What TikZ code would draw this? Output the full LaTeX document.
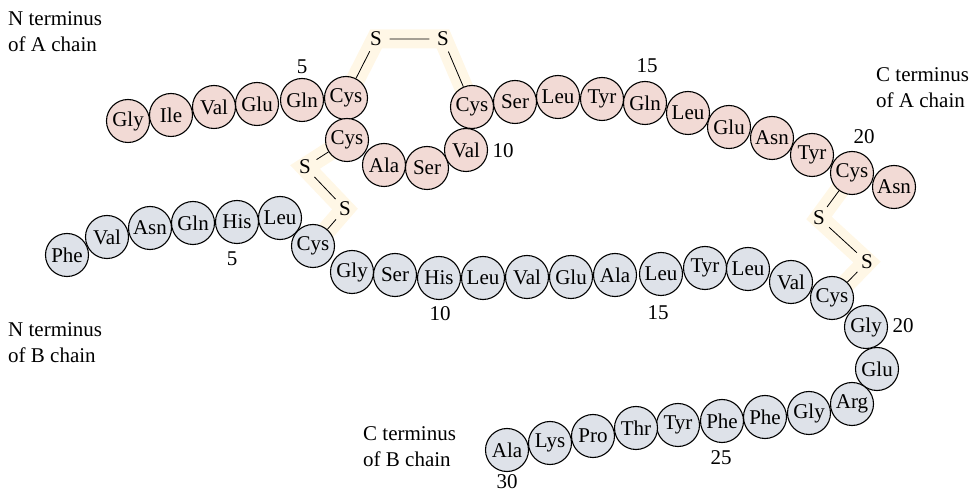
\documentclass[tikz,border=0pt]{standalone}
\usepackage{fontspec}
\setmainfont{Liberation Serif}
\usetikzlibrary{backgrounds}
\definecolor{apink}{RGB}{242,218,213}
\definecolor{bgrey}{RGB}{222,226,233}
\definecolor{bandcol}{RGB}{255,247,230}

\begin{document}
\begin{tikzpicture}[
    x=1pt, y=-1pt,
    every node/.style={font=\fontsize{21}{25}\selectfont, inner sep=0pt},
    res/.style={circle, draw, line width=1.1pt, minimum size=43pt},
    achain/.style={res, fill=apink},
    bchain/.style={res, fill=bgrey},
    sulf/.style={circle, minimum size=27pt},
    bond/.style={line width=0.8pt},
    band/.style={line width=19pt, draw=bandcol, line join=miter},
    term/.style={align=left, anchor=west, font=\fontsize{21}{26}\selectfont}
]
\useasboundingbox (0,0) rectangle (970,494);

% A chain
\node[achain] (a1) at (128,121) {Gly};
\node[achain] (a2) at (171,115) {Ile};
\node[achain] (a3) at (214,107) {Val};
\node[achain] (a4) at (257,104) {Glu};
\node[achain] (a5) at (302,100) {Gln};
\node[achain] (a6) at (346,98) {Cys};
\node[achain] (a7) at (347,140) {Cys};
\node[achain] (a8) at (384,165) {Ala};
\node[achain] (a9) at (427,168) {Ser};
\node[achain] (a10) at (466,150) {Val};
\node[achain] (a11) at (472,107) {Cys};
\node[achain] (a12) at (515,102) {Ser};
\node[achain] (a13) at (558,97) {Leu};
\node[achain] (a14) at (602,99) {Tyr};
\node[achain] (a15) at (645,103) {Gln};
\node[achain] (a16) at (688,113) {Leu};
\node[achain] (a17) at (729,127) {Glu};
\node[achain] (a18) at (772,138) {Asn};
\node[achain] (a19) at (812,155) {Tyr};
\node[achain] (a20) at (852,173) {Cys};
\node[achain] (a21) at (894,187) {Asn};

% B chain
\node[bchain] (b1) at (67,255) {Phe};
\node[bchain] (b2) at (107,237) {Val};
\node[bchain] (b3) at (150,228) {Asn};
\node[bchain] (b4) at (193,223) {Gln};
\node[bchain] (b5) at (237,222) {His};
\node[bchain] (b6) at (280,218) {Leu};
\node[bchain] (b7) at (313,246) {Cys};
\node[bchain] (b8) at (352,272) {Gly};
\node[bchain] (b9) at (395,275) {Ser};
\node[bchain] (b10) at (439,278) {His};
\node[bchain] (b11) at (483,278) {Leu};
\node[bchain] (b12) at (527,277) {Val};
\node[bchain] (b13) at (571,277) {Glu};
\node[bchain] (b14) at (615,275) {Ala};
\node[bchain] (b15) at (661,274) {Leu};
\node[bchain] (b16) at (705,268) {Tyr};
\node[bchain] (b17) at (748,269) {Leu};
\node[bchain] (b18) at (791,282) {Val};
\node[bchain] (b19) at (832,298) {Cys};
\node[bchain] (b20) at (866,327) {Gly};
\node[bchain] (b21) at (877,369) {Glu};
\node[bchain] (b22) at (852,404) {Arg};
\node[bchain] (b23) at (809,413) {Gly};
\node[bchain] (b24) at (765,417) {Phe};
\node[bchain] (b25) at (722,421) {Phe};
\node[bchain] (b26) at (678,425) {Tyr};
\node[bchain] (b27) at (636,428) {Thr};
\node[bchain] (b28) at (593,436) {Pro};
\node[bchain] (b29) at (550,443) {Lys};
\node[bchain] (b30) at (507,450) {Ala};

% disulfide bridges
\node[sulf] (sa1) at (376,39) {S};
\node[sulf] (sa2) at (443,39) {S};
\node[sulf] (sm1) at (305,167) {S};
\node[sulf] (sm2) at (345,209) {S};
\node[sulf] (sr1) at (819,218) {S};
\node[sulf] (sr2) at (867,262) {S};

\begin{scope}[on background layer]
\draw[band] (a6.center) -- (sa1.center) -- (sa2.center) -- (a11.center);
\draw[band] (a7.center) -- (sm1.center) -- (sm2.center) -- (b7.center);
\draw[band] (a20.center) -- (sr1.center) -- (sr2.center) -- (b19.center);
\end{scope}

\draw[bond] (a6) -- (sa1) -- (sa2) -- (a11);
\draw[bond] (a7) -- (sm1) -- (sm2) -- (b7);
\draw[bond] (a20) -- (sr1) -- (sr2) -- (b19);

% residue numbers
\node (na5) at (302,67) {5};
\node (na10) at (503,151) {10};
\node (na15) at (647,66) {15};
\node (na20) at (864,137) {20};
\node (nb5) at (232,259) {5};
\node (nb10) at (440,314) {10};
\node (nb15) at (658,313) {15};
\node (nb20) at (903,326) {20};
\node (nb25) at (721,458) {25};
\node (nb30) at (507,482) {30};

% termini
\node[term] (nta) at (8,32) {N terminus\\of A chain};
\node[term] (cta) at (876,88) {C terminus\\of A chain};
\node[term] (ntb) at (8,343) {N terminus\\of B chain};
\node[term] (ctb) at (363,447) {C terminus\\of B chain};
\end{tikzpicture}
\end{document}
